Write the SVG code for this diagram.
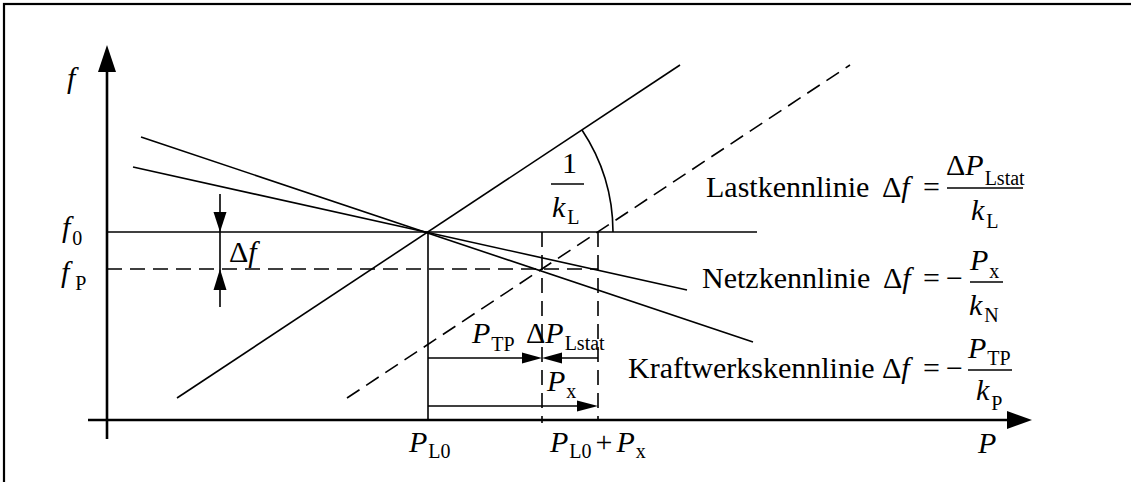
<svg xmlns="http://www.w3.org/2000/svg" width="1131" height="482" viewBox="0 0 1131 482">
<style>
.t{font-family:"Liberation Serif","Times New Roman",serif;font-size:30px;fill:#000}
.i{font-style:italic}
.s{font-size:20px;font-style:normal}
.ln{stroke:#000;stroke-width:1.6;fill:none}
.ax{stroke:#000;stroke-width:2.6;fill:none}
.d{stroke-dasharray:15 8}
.ah{fill:#000;stroke:none}
</style>
<rect x="0" y="0" width="1131" height="482" fill="#fff"/>
<rect x="4" y="4" width="1150" height="520" fill="none" stroke="#000" stroke-width="2.2"/>
<g id="axes">
<line class="ax" x1="107" y1="439" x2="107" y2="70"/>
<polygon class="ah" points="107,45 98,72 116,72"/>
<line class="ax" x1="88" y1="420" x2="1009" y2="420"/>
<polygon class="ah" points="1032,420 1007,411 1007,429"/>
</g>
<g id="connectors">
<line class="ln" x1="107" y1="232" x2="757" y2="232"/>
<line class="ln d" x1="107" y1="269" x2="598" y2="269"/>
<line class="ln" x1="177" y1="398" x2="680" y2="65"/>
<line class="ln d" x1="347" y1="398" x2="850" y2="65"/>
<line class="ln" x1="141" y1="137" x2="753" y2="342"/>
<line class="ln" x1="133" y1="167" x2="687" y2="290"/>
<line class="ln" x1="428" y1="232" x2="428" y2="420"/>
<line class="ln d" x1="542" y1="232" x2="542" y2="423"/>
<line class="ln d" x1="598" y1="232" x2="598" y2="420"/>
<path class="ln" d="M613,232 A185,185 0 0 0 582,130"/>
<line class="ln" x1="220" y1="194" x2="220" y2="307"/>
<polygon class="ah" points="220,232 213.5,212 226.5,212"/>
<polygon class="ah" points="220,269 213.5,290 226.5,290"/>
<line class="ln" x1="428" y1="358" x2="524" y2="358"/>
<polygon class="ah" points="542,358 522,352.5 522,363.5"/>
<line class="ln" x1="598" y1="358" x2="560" y2="358"/>
<polygon class="ah" points="542,358 562,352.5 562,363.5"/>
<line class="ln" x1="428" y1="406" x2="580" y2="406"/>
<polygon class="ah" points="598,406 577,400.5 577,411.5"/>
<line class="ln" x1="551" y1="184" x2="584" y2="184"/>
<line class="ln" x1="947" y1="188" x2="1023" y2="188"/>
<line class="ln" x1="970" y1="282" x2="1003" y2="282"/>
<line class="ln" x1="968" y1="370" x2="1012" y2="370"/>
</g>
<g id="axis-labels">
<text class="t i" x="67" y="88">f</text>
<text class="t" x="62" y="237"><tspan class="i">f</tspan><tspan class="s" dx="2" dy="8">0</tspan></text>
<text class="t" x="61" y="282"><tspan class="i">f</tspan><tspan class="s" dx="6" dy="8">P</tspan></text>
<text class="t" x="229" y="262">Δ<tspan class="i">f</tspan></text>
<text class="t i" x="978" y="453">P</text>
<text class="t" x="409" y="452"><tspan class="i">P</tspan><tspan class="s" dx="1" dy="6">L0</tspan></text>
<text class="t" x="550" y="452"><tspan class="i">P</tspan><tspan class="s" dx="1" dy="6">L0</tspan><tspan dx="4" dy="-6">+</tspan><tspan class="i" dx="4">P</tspan><tspan class="s" dx="1" dy="6">x</tspan></text>
</g>
<g id="slope-label">
<text class="t" x="562" y="173">1</text>
<text class="t" x="552" y="217"><tspan class="i">k</tspan><tspan class="s" dx="2" dy="7">L</tspan></text>
</g>
<g id="arrow-labels">
<text class="t" x="472" y="343"><tspan class="i">P</tspan><tspan class="s" dx="1" dy="8">TP</tspan></text>
<text class="t" x="526" y="343">Δ<tspan class="i">P</tspan><tspan class="s" dx="1" dy="7">Lstat</tspan></text>
<text class="t" x="547" y="391"><tspan class="i">P</tspan><tspan class="s" dx="1" dy="7">x</tspan></text>
</g>
<g id="lastkennlinie">
<text class="t" x="706" y="197">Lastkennlinie</text>
<text class="t" x="882" y="197">Δ<tspan class="i">f</tspan></text>
<text class="t" x="923" y="197">=</text>
<text class="t" x="946" y="175">Δ<tspan class="i">P</tspan><tspan class="s" dx="1" dy="10">Lstat</tspan></text>
<text class="t" x="971" y="220"><tspan class="i">k</tspan><tspan class="s" dx="2" dy="8">L</tspan></text>
</g>
<g id="netzkennlinie">
<text class="t" x="702" y="288">Netzkennlinie</text>
<text class="t" x="883" y="288">Δ<tspan class="i">f</tspan></text>
<text class="t" x="923" y="288">=</text>
<text class="t" x="946" y="288">−</text>
<text class="t" x="970" y="270"><tspan class="i">P</tspan><tspan class="s" dx="1" dy="8">x</tspan></text>
<text class="t" x="969" y="315"><tspan class="i">k</tspan><tspan class="s" dx="2" dy="7">N</tspan></text>
</g>
<g id="kraftwerkskennlinie">
<text class="t" x="628" y="378">Kraftwerkskennlinie</text>
<text class="t" x="882" y="378">Δ<tspan class="i">f</tspan></text>
<text class="t" x="923" y="378">=</text>
<text class="t" x="946" y="378">−</text>
<text class="t" x="968" y="358"><tspan class="i">P</tspan><tspan class="s" dx="1" dy="7">TP</tspan></text>
<text class="t" x="976" y="400"><tspan class="i">k</tspan><tspan class="s" dx="2" dy="10">P</tspan></text>
</g>
</svg>
